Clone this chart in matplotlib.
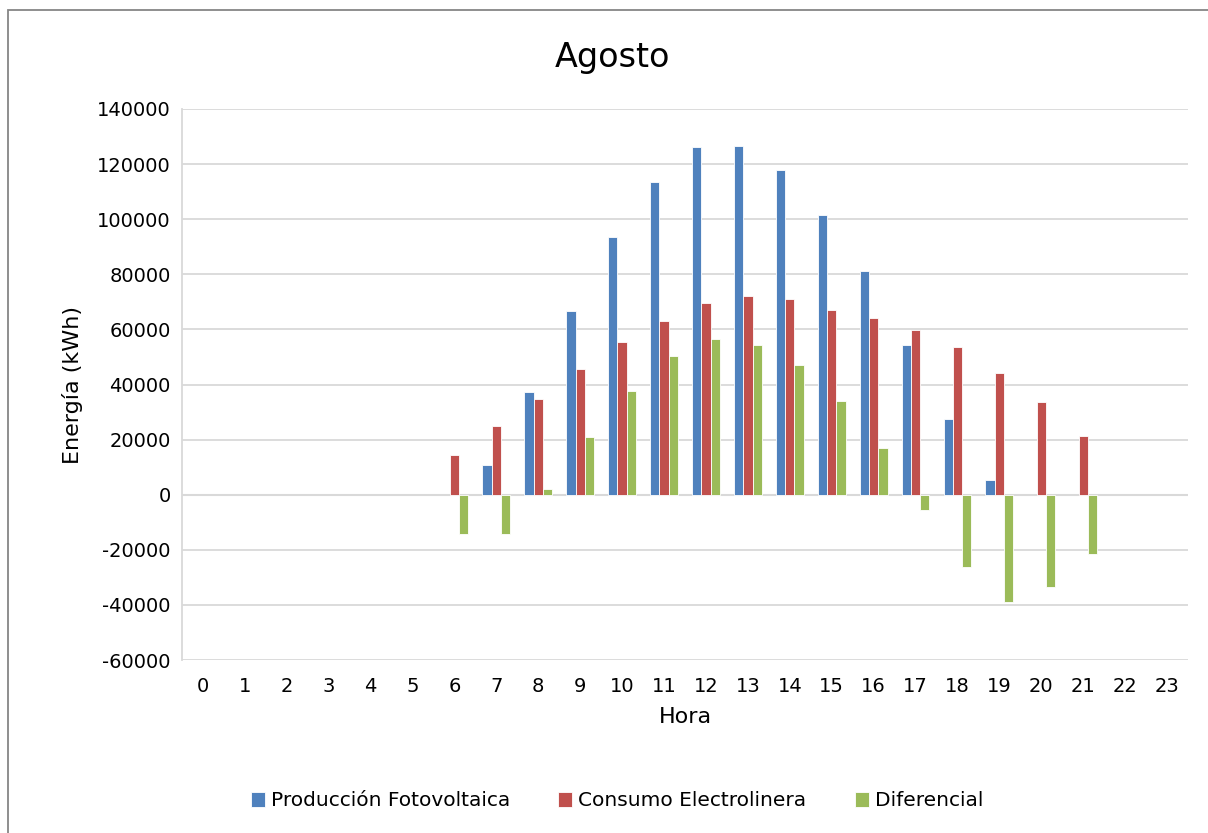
import numpy as np
import matplotlib
matplotlib.use("Agg")
import matplotlib.pyplot as plt
from matplotlib.patches import Rectangle

# datos (kWh por hora, agosto)
horas = list(range(24))
produccion = [0, 0, 0, 0, 0, 0, 0, 10800, 37100, 66800, 93400, 113400, 126200,
              126700, 117900, 101400, 81100, 54300, 27400, 5200, 0, 0, 0, 0]
consumo = [0, 0, 0, 0, 0, 0, 14400, 24900, 34800, 45600, 55400, 62900, 69600,
           72200, 70900, 67000, 64000, 59900, 53500, 44100, 33500, 21200, 0, 0]
diferencial = [0, 0, 0, 0, 0, 0, -14400, -14100, 2100, 21100, 37700, 50300, 56500,
               54400, 47000, 34100, 17000, -5600, -26100, -39000, -33600, -21400, 0, 0]

series = ["Producción Fotovoltaica", "Consumo Electrolinera", "Diferencial"]
colores = ["#4F81BD", "#C0504D", "#9BBB59"]

plt.rcParams['font.family'] = ['DejaVu Sans']
plt.rcParams['axes.unicode_minus'] = False

fig = plt.figure(figsize=(12.08, 8.33), dpi=100)
ax = fig.add_axes([182/1208, 1 - 660/833, (1188-182)/1208, (660-109)/833])

x = np.arange(len(horas))
w = 0.222
for i, (vals, nombre, c) in enumerate(zip([produccion, consumo, diferencial], series, colores)):
    alturas = np.array(vals, dtype=float)
    alturas[alturas == 0] = np.nan  # sin barra cuando el valor es 0
    ax.bar(x + (i - 1) * w, alturas, width=w, color=c, edgecolor="white", linewidth=0.6,
           label=nombre, zorder=3)

ax.set_xlim(-0.5, 23.5)
ax.set_ylim(-60000, 140000)
ax.set_yticks(np.arange(-60000, 140001, 20000))
ax.set_xticks(x)
ax.set_xticklabels([str(h) for h in horas])
ax.tick_params(axis="both", length=0, labelsize=14, pad=8)
ax.tick_params(axis="x", pad=12)
ax.grid(axis="y", color="#D9D9D9", linewidth=1.3, zorder=0)
ax.axhline(0, color="#D9D9D9", linewidth=1.5, zorder=2)
for s in ["top", "right", "bottom"]:
    ax.spines[s].set_visible(False)
ax.spines["left"].set_color("#D9D9D9")
ax.spines["left"].set_linewidth(1.3)

ax.set_xlabel("Hora", fontsize=16, labelpad=8)
ax.set_ylabel("Energía (kWh)", fontsize=16, labelpad=10)
fig.text(612/1208, 1 - 57/833, "Agosto", fontsize=24, ha="center", va="center")

fig.legend(loc="center", bbox_to_anchor=(617/1208, 1 - 801/833), ncol=3, frameon=False,
           fontsize=14.5, handlelength=0.7, handleheight=0.7, handletextpad=0.3,
           columnspacing=2.4)

fig.add_artist(Rectangle((8/1208, -0.1), 1.1, 1 - 10/833 + 0.1, transform=fig.transFigure,
                         fill=False, edgecolor="#868686", linewidth=1.3))

fig.savefig("out.png", dpi=100)
